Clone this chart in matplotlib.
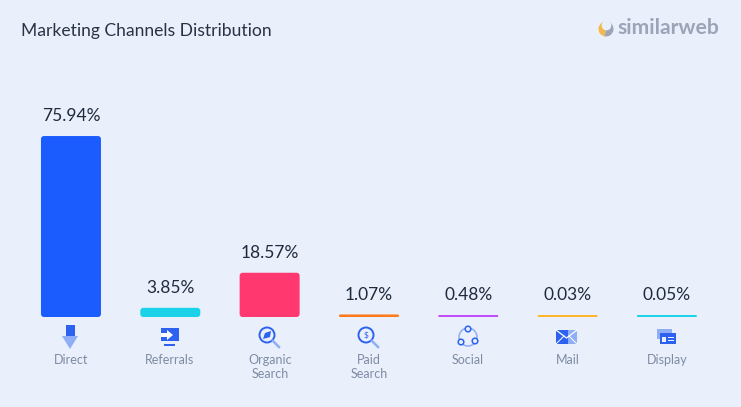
import matplotlib.pyplot as plt
from matplotlib.patches import FancyBboxPatch, Circle, Rectangle, Polygon, Wedge
from matplotlib.transforms import IdentityTransform

plt.rcParams['font.family'] = ['Lato', 'DejaVu Sans']

channels = ['Direct', 'Referrals', 'Organic\nSearch', 'Paid\nSearch', 'Social', 'Mail', 'Display']
shares = [75.94, 3.85, 18.57, 1.07, 0.48, 0.03, 0.05]
share_labels = ['75.94%', '3.85%', '18.57%', '1.07%', '0.48%', '0.03%', '0.05%']
bar_colors = ['#1B5CFF', '#1BD2E8', '#FF3870', '#FF7A1A', '#C04DF5', '#FFB62E', '#1BD2E8']

BG = '#E9F0FC'
BLUE = '#2D62F0'
LIGHT = '#8FAEF5'
W, H = 741, 407

fig = plt.figure(figsize=(W / 100, H / 100), dpi=100, facecolor=BG)

# pixel overlay for title, logo and icons
px = fig.add_axes([0, 0, 1, 1], zorder=3)
px.set_xlim(0, W)
px.set_ylim(H, 0)
px.axis('off')

ax = fig.add_axes([21.3 / W, (H - 317) / H, 695.3 / W, 238.3 / H], zorder=2)
ax.patch.set_alpha(0)
ax.set_xlim(-0.5, 6.5)
ax.set_ylim(0, 100)
ax.axis('off')

bars = ax.bar(range(7), shares, width=0.604, color=bar_colors)
fig.canvas.draw()
for bar, color, lab in zip(bars, bar_colors, share_labels):
    x0, y0 = ax.transData.transform((bar.get_x(), 0))
    x1, y1 = ax.transData.transform((bar.get_x() + bar.get_width(), bar.get_height()))
    bar.set_visible(False)
    h = max(y1 - y0, 2)
    r = min(3, h / 2)
    fig.add_artist(FancyBboxPatch((x0 + r, y0 + r), x1 - x0 - 2 * r, h - 2 * r,
                                  boxstyle=f'round,pad={r},rounding_size={r}',
                                  fc=color, ec='none', transform=IdentityTransform()))
    # thin bars get a minimum height, the label sits on what is drawn
    top = ax.transData.inverted().transform((x0, y0 + h))[1]
    ax.annotate(lab, (bar.get_x() + bar.get_width() / 2, top), xytext=(0, 14.2),
                textcoords='offset points', ha='center', va='center',
                fontsize=12.5, color='#1F2A3C', annotation_clip=False)

# category labels
centers = [71, 170, 270, 369, 468, 568, 667]
for cx, name in zip(centers, channels):
    cy = 367 if '\n' in name else 360
    px.text(cx, cy, name, ha='center', va='center', fontsize=9,
            color='#7F8BA3', linespacing=1.25)

px.text(21, 31, 'Marketing Channels Distribution', fontsize=12.6, color='#2A3344',
        ha='left', va='center')

# logo
px.add_patch(Wedge((606, 29), 7.5, 100, 280, fc='#F5B94A', ec='none'))
px.add_patch(Wedge((606, 29), 7.5, 280, 100, fc='#9BA5B7', ec='none'))
px.add_patch(Circle((606.5, 25.5), 4.8, fc=BG, ec='none'))
px.text(617, 28, 'similarweb', fontsize=15.2, fontweight='bold', color='#9BA5B7',
        ha='left', va='center')

# Direct icon
px.add_patch(Rectangle((66, 325), 9, 11, fc=BLUE, ec='none'))
px.add_patch(Polygon([(62, 336), (78, 336), (70, 349)], fc=LIGHT, ec='none'))

# Referrals icon
px.add_patch(Rectangle((161, 328), 18, 13, fc=BLUE, ec='none'))
px.add_patch(Rectangle((164, 344), 11, 1.5, fc=BLUE, ec='none'))
px.add_patch(Polygon([(161, 333), (167, 333), (167, 330), (173, 335), (167, 340),
                      (167, 337), (161, 337)], fc='white', ec='none'))

# Organic search and paid search icons
for cx, cy in [(267, 335), (366, 335)]:
    px.add_patch(Circle((cx, cy), 7.5, fc=BG, ec=BLUE, lw=1.4))
    px.plot([cx + 6, cx + 12], [cy + 6, cy + 12], color=LIGHT, lw=1.8)
px.add_patch(Polygon([(263, 339), (265, 333), (271, 331), (270, 337)], fc=BLUE, ec='none'))
px.text(366, 335, '$', fontsize=6, color=BLUE, ha='center', va='center')

# Social icon
px.add_patch(Circle((468, 337), 9, fc='none', ec=LIGHT, lw=1.1))
for cx, cy in [(468, 329), (461, 342), (475, 341)]:
    px.add_patch(Circle((cx, cy), 2.8, fc=BG, ec=BLUE, lw=1.1, zorder=3))

# Mail icon
px.add_patch(Rectangle((556, 330), 21, 14, fc=BLUE, ec='none'))
px.add_patch(Rectangle((568, 330), 9, 14, fc=LIGHT, ec='none'))
px.plot([556, 566.5, 577], [330, 338, 330], color='white', lw=0.9)
px.plot([556, 564], [344, 336], color='white', lw=0.7)
px.plot([577, 569], [344, 336], color='white', lw=0.7)

# Display icon
px.add_patch(Rectangle((657, 329), 15, 10, fc=LIGHT, ec='none'))
px.add_patch(Rectangle((660, 333), 16, 11, fc=BLUE, ec='none'))
px.add_patch(Rectangle((662, 336.5), 4, 5.5, fc=BG, ec='none'))
px.add_patch(Rectangle((667.5, 336.5), 6.5, 1.2, fc=BG, ec='none'))
px.add_patch(Rectangle((667.5, 339.5), 6.5, 1.2, fc=BG, ec='none'))

fig.savefig('out.png', dpi=100, facecolor=BG)
